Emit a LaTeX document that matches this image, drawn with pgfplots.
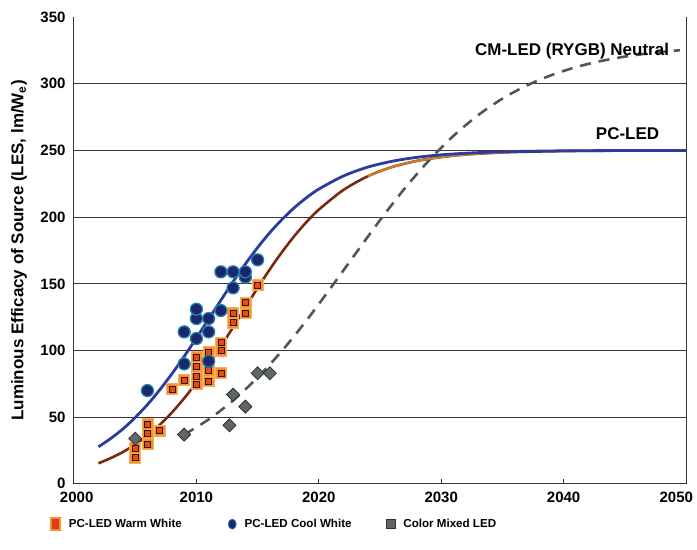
\documentclass[border=0pt]{standalone}
\usepackage{fontspec}
\setmainfont{Liberation Sans}
\usepackage{pgfplots}
\usepackage{pgfplotstable}
\pgfplotsset{compat=1.18}

\definecolor{pcblue}{RGB}{45,58,158}
\definecolor{pcbrown}{RGB}{122,40,14}
\definecolor{pcgold}{RGB}{222,150,50}
\definecolor{cmgray}{RGB}{75,90,86}
\definecolor{gridgray}{RGB}{55,55,55}
\definecolor{warmorange}{RGB}{246,146,42}
\definecolor{warmred}{RGB}{228,58,22}
\definecolor{coolnavy}{RGB}{28,38,112}
\definecolor{coolteal}{RGB}{38,128,165}
\definecolor{mixfill}{RGB}{96,102,103}
\definecolor{mixedge}{RGB}{45,52,52}

% measured lamps: PC-LED warm white
\pgfplotstableread{
year les
2005 20
2005 27
2006 30
2006 38
2006 45
2007 40
2008 71
2009 78
2010 75
2010 81
2010 88
2010 95
2011 77
2011 85
2011 99
2012 83
2012 100
2012 106
2013 121
2013 128
2014 128
2014 136
2015 149
}\warmwhite

% measured lamps: PC-LED cool white
\pgfplotstableread{
year les
2006 70
2009 90
2009 114
2010 109
2010 124
2010 131
2011 92
2011 114
2011 124
2012 130
2012 159
2013 147
2013 159
2014 155
2014 159
2015 168
}\coolwhite

% measured lamps: colour mixed LED
\pgfplotstableread{
year les
2005 34
2009 37
2012.7 44
2013 67
2014 58
2015 83
2016 83
}\colormixed

% projection: PC-LED (cool white)
\pgfplotstableread{
year les
2002 27.9
2003 34.1
2004 41.3
2005 49.8
2006 59.5
2007 70.5
2008 82.6
2009 95.6
2010 109.4
2011 123.6
2012 137.7
2013 151.7
2014 164.9
2015 177.2
2016 188.4
2017 198.3
2018 207.1
2019 214.6
2020 221.0
2022 230.8
2024 237.5
2026 241.9
2028 244.8
2030 246.7
2032 247.9
2034 248.7
2036 249.2
2040 249.7
2045 249.9
2050 250.0
}\pcblue

% projection: PC-LED (warm white)
\pgfplotstableread{
year les
2002 15.5
2003 19.4
2004 24.0
2005 29.7
2006 36.4
2007 44.3
2008 53.6
2009 64.2
2010 76.1
2011 89.2
2012 103.1
2013 117.6
2014 132.4
2015 146.9
2016 160.9
2017 173.9
2018 185.8
2019 196.4
2020 205.6
2022 220.3
2024 230.6
2026 237.6
2028 242.1
2030 245.0
2032 246.9
2034 248.0
2036 248.8
2040 249.5
2045 249.9
2050 250.0
}\pcwarm

\pgfplotstableread{
year les
2024 230.6
2026 237.6
2028 242.1
2030 245.0
2032 246.9
2034 248.0
2036 248.8
}\pcwarmtop

% projection: CM-LED (RYGB) neutral
\pgfplotstableread{
year les
2009 37.0
2011 48.4
2013 62.6
2015 79.8
2017 99.9
2019 122.6
2021 147.3
2023 172.6
2025 197.7
2027 221.3
2029 242.5
2031 260.9
2033 276.3
2035 288.8
2037 298.7
2039 306.4
2041 312.4
2043 316.9
2045 320.3
2047 322.8
2049.5 325.1
}\cmled

\begin{document}
\begin{tikzpicture}
\begin{axis}[
  scale only axis, width=612pt, height=467pt,
  xmin=2000, xmax=2050, ymin=0, ymax=350,
  axis x line*=bottom, axis y line*=left,
  axis line style={gridgray, line width=1pt, -},
  xtick={2000,2010,...,2050},
  xticklabels={\makebox[0pt][l]{\hspace*{-14pt}2000},2010,2020,2030,2040,\makebox[0pt][r]{2050\hspace*{-7pt}}},
  ytick={0,50,...,350},
  yticklabels={\raisebox{2pt}{0},50,100,150,200,250,300,350},
  xtick align=inside,
  major tick length=5pt,
  xtick style={gridgray, line width=1pt},
  ytick style={draw=none},
  extra y ticks={50,100,...,300},
  extra y tick labels={},
  extra y tick style={ymajorgrids=true, ytick style={draw=none}},
  major grid style={gridgray, line width=0.9pt},
  /pgf/number format/1000 sep={},
  /pgf/number format/assume math mode=true,
  tick label style={font=\bfseries\fontsize{15}{15}\selectfont},
  xticklabel style={yshift=-5pt},
  yticklabel style={xshift=-5pt},
  ylabel={Luminous Efficacy of Source (LES, lm/W\textsubscript{e})},
  every axis y label/.style={at={(axis description cs:-0.09,0.5)}, rotate=90, anchor=center,
    font=\bfseries\fontsize{17}{17}\selectfont},
  legend columns=3,
  legend style={at={(axis description cs:-0.039,-0.086)}, anchor=west,
    draw=none, fill=none, inner sep=0pt,
    font=\bfseries\fontsize{11.6}{12}\selectfont,
    /tikz/every odd column/.append style={column sep=6pt},
    /tikz/column 2/.style={column sep=44pt},
    /tikz/column 4/.style={column sep=32pt}},
  legend cell align=left,
  clip=false,
]

% measured points
\addplot[only marks, mark=square*, mark size=5.5pt,
  mark options={fill=warmorange, draw=warmorange!75!white, line width=0.6pt},
  legend image code/.code={\draw[fill=warmred, draw=warmorange, line width=1.5pt] (0pt,-6pt) rectangle (9pt,6pt);}]
  table[x=year, y=les] {\warmwhite};
\addlegendentry{PC-LED Warm White}
\addplot[forget plot, only marks, mark=square*, mark size=3pt,
  mark options={fill=warmred, draw=none, opacity=0.8}]
  table[x=year, y=les] {\warmwhite};

\addplot[only marks, mark=*, mark size=6pt,
  mark options={fill=coolnavy, draw=coolteal, line width=1.3pt},
  legend image code/.code={\draw[fill=coolnavy, draw=coolteal, line width=0.8pt] (4pt,0pt) ellipse (4pt and 5pt);}]
  table[x=year, y=les] {\coolwhite};
\addlegendentry{PC-LED Cool White}

% colour mixed projection and points
\addplot[forget plot, no marks, smooth, cmgray, line width=2.6pt, dash pattern=on 11pt off 8pt]
  table[x=year, y=les] {\cmled};

\addplot[only marks, mark=square*, mark size=4.6pt,
  mark options={rotate=45, fill=mixfill, draw=mixedge, line width=0.8pt},
  legend image code/.code={\draw[fill=mixfill, draw=mixedge, line width=0.8pt] (0pt,-4.5pt) rectangle (9pt,4.5pt);}]
  table[x=year, y=les] {\colormixed};
\addlegendentry{Color Mixed LED}

% PC-LED projections
\addplot[forget plot, no marks, smooth, pcbrown, line width=2.6pt]
  table[x=year, y=les] {\pcwarm};
\addplot[forget plot, no marks, smooth, pcgold, line width=2.2pt, opacity=0.8]
  table[x=year, y=les] {\pcwarmtop};
\addplot[forget plot, no marks, smooth, pcblue, line width=2.8pt]
  table[x=year, y=les] {\pcblue};

\draw[gridgray, line width=1pt] (rel axis cs:1,0) -- (rel axis cs:1,1);

\node[anchor=east, font=\bfseries\fontsize{17}{17}\selectfont] at (axis cs:2048.9,324.6) {CM-LED (RYGB) Neutral};
\node[anchor=east, font=\bfseries\fontsize{17}{17}\selectfont] at (axis cs:2048.1,262.4) {PC-LED};
\end{axis}
\pgfresetboundingbox
\path ([xshift=-74pt,yshift=-66pt]current axis.south west) rectangle ([xshift=11pt,yshift=17pt]current axis.north east);
\end{tikzpicture}
\end{document}
